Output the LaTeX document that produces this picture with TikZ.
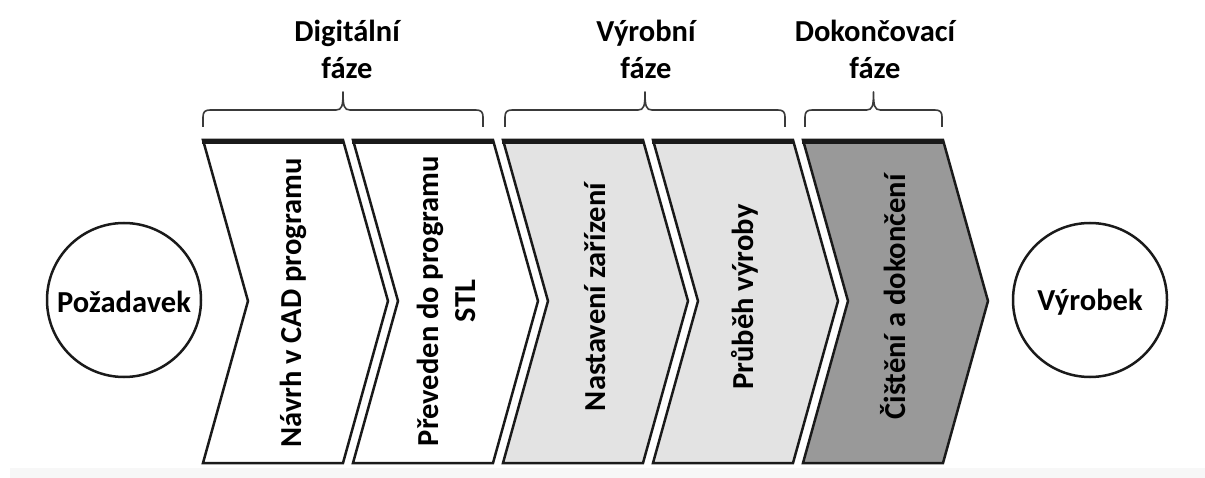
\documentclass[tikz,border=0pt]{standalone}
\usepackage{fontspec}
\setmainfont{Carlito}
\definecolor{lightgr}{HTML}{E3E3E3}
\definecolor{darkgr}{HTML}{999999}
\definecolor{edge}{HTML}{1A1A1A}
\definecolor{bracec}{HTML}{3A3A3A}
\tikzset{
  txt/.style={font=\fontsize{30.5}{37}\selectfont\bfseries, text=black, inner sep=0pt},
  chevtxt/.style={txt, rotate=90, align=center},
  circ/.style={circle, draw=edge, line width=2.5pt, minimum size=154pt, inner sep=0pt, fill=white},
  chev/.style={draw=edge, line width=2.5pt, line join=miter},
  topedge/.style={draw=edge, line width=5pt, line cap=butt},
  phase/.style={draw=bracec, line width=1.6pt, line join=round},
  head/.style={txt, align=center}
}
% #1 left x, #2 right x
\newcommand{\phasebrace}[2]{%
  \pgfmathsetmacro{\bm}{(#1+#2)/2}%
  \draw[phase] (#1,127) -- (#1,117) .. controls (#1,112) and (#1+2,110) .. (#1+7,110)
     -- (\bm-7,110) .. controls (\bm-1,110) and (\bm,106) .. (\bm,92)
     .. controls (\bm,106) and (\bm+1,110) .. (\bm+7,110)
     -- (#2-7,110) .. controls (#2-2,110) and (#2,112) .. (#2,117) -- (#2,127);
}
\begin{document}
\begin{tikzpicture}[x=1pt,y=-1pt]
\useasboundingbox (0,0) rectangle (1205,478);
\fill[white] (0,0) rectangle (1205,478);
\fill[black!3] (10,468) rectangle (1205,478);
% circles
\node[circ] (pozadavek) at (124,300) {};
\node[txt] (pozt) at (124,302) {Požadavek};
\node[circ] (vyrobek) at (1090,300) {};
\node[txt] (vyrt) at (1090,302) {Výrobek};
% chevrons
\path[chev, fill=white] (203,140) -- (343,140) -- (388,301) -- (343,463) -- (203,463) -- (248,301) -- cycle;
\path[chev, fill=white] (353,140) -- (493,140) -- (538,301) -- (493,463) -- (353,463) -- (398,301) -- cycle;
\path[chev, fill=lightgr] (503,140) -- (643,140) -- (688,301) -- (643,463) -- (503,463) -- (548,301) -- cycle;
\path[chev, fill=lightgr] (653,140) -- (793,140) -- (838,301) -- (793,463) -- (653,463) -- (698,301) -- cycle;
\path[chev, fill=darkgr] (803,140) -- (943,140) -- (988,301) -- (943,463) -- (803,463) -- (848,301) -- cycle;
\foreach \L in {203,353,503,653,803}{
  \draw[topedge] (\L-1,141.5) -- ++(142,0);
}
\node[chevtxt] (c1) at (293,303) {Návrh v CAD programu};
\node[chevtxt] (c2) at (446,301) {Převeden do programu\\STL};
\node[chevtxt] (c3) at (595,297) {Nastavení zařízení};
\node[chevtxt] (c4) at (745,297) {Průběh výroby};
\node[chevtxt] (c5) at (893,297) {Čištění a dokončení};
% braces
\phasebrace{203}{483}
\phasebrace{505}{785}
\phasebrace{805}{942}
\node[head] (h1) at (347,49) {Digitální\\fáze};
\node[head] (h2) at (646,49) {Výrobní\\fáze};
\node[head] (h3) at (875,49) {Dokončovací\\fáze};
\end{tikzpicture}
\end{document}
